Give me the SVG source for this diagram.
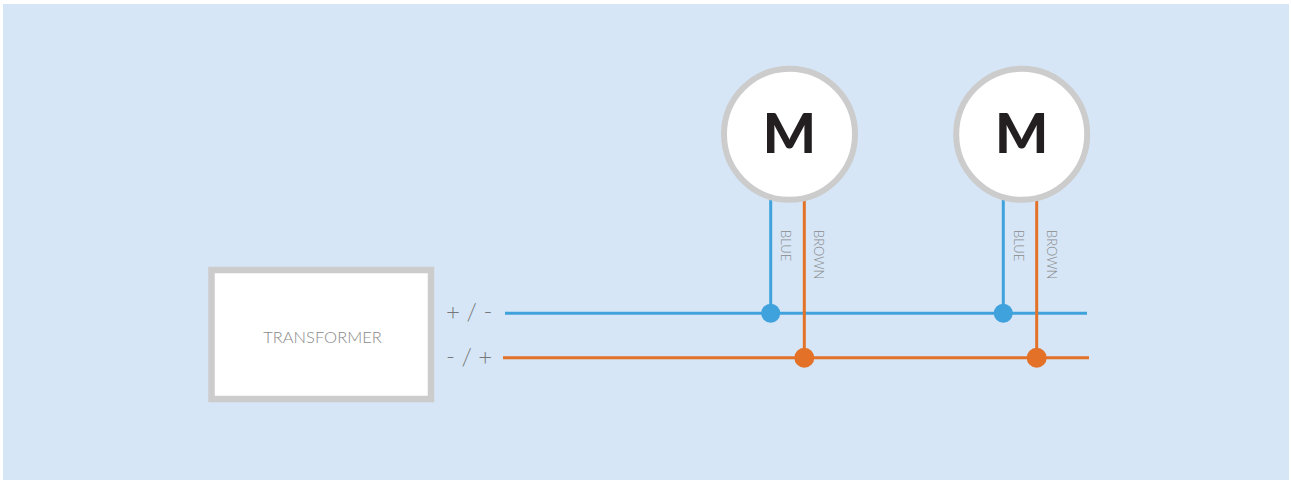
<svg xmlns="http://www.w3.org/2000/svg" width="1291" height="480" viewBox="0 0 1291 480">
<style>
.lbl{font-family:Lato,"Open Sans","Liberation Sans",sans-serif;font-weight:300;fill:#8a8a8a}
.pol{font-family:Lato,"Open Sans","Liberation Sans",sans-serif;font-weight:300;fill:#777;font-size:24px}
.m{font-family:Lato,"Liberation Sans",sans-serif;font-weight:900;fill:#231f20;font-size:56px;text-anchor:middle}
.motor{fill:#fff;stroke:#cccccc;stroke-width:6}
.blue{stroke:#3fa2dc;stroke-width:3;fill:none}
.brown{stroke:#e37228;stroke-width:3;fill:none}
</style>
<rect x="0" y="0" width="1291" height="480" fill="#ffffff"/>
<rect x="3" y="4" width="1286" height="476" fill="#d6e6f6"/>
<g id="connectors">
<line class="blue" x1="505" y1="313.3" x2="1087" y2="313.3"/>
<line class="brown" x1="503" y1="357.7" x2="1089" y2="357.7"/>
<line class="blue" x1="770.7" y1="195" x2="770.7" y2="313"/>
<line class="brown" x1="804.3" y1="195" x2="804.3" y2="358"/>
<line class="blue" x1="1003.3" y1="195" x2="1003.3" y2="313"/>
<line class="brown" x1="1036.7" y1="195" x2="1036.7" y2="358"/>
<circle cx="770.7" cy="313.3" r="9.5" fill="#3fa2dc"/>
<circle cx="1003.3" cy="313.3" r="9.5" fill="#3fa2dc"/>
<circle cx="804.3" cy="357.7" r="10" fill="#e37228"/>
<circle cx="1036.7" cy="357.7" r="10" fill="#e37228"/>
<text class="lbl" font-size="13" transform="translate(781,230) rotate(90)">BLUE</text>
<text class="lbl" font-size="13" transform="translate(813.5,230) rotate(90)">BROWN</text>
<text class="lbl" font-size="13" transform="translate(1014,230) rotate(90)">BLUE</text>
<text class="lbl" font-size="13" transform="translate(1046.5,230) rotate(90)">BROWN</text>
</g>
<g id="transformer">
<rect x="211.5" y="270" width="219.5" height="129" fill="#fff" stroke="#cccccc" stroke-width="6.5"/>
<text class="lbl" font-size="16.5" x="322.5" y="343" text-anchor="middle">TRANSFORMER</text>
<text class="pol" x="446" y="320">+ / -</text>
<text class="pol" x="446" y="365">- / +</text>
</g>
<g id="motor1">
<circle class="motor" cx="789.5" cy="134.3" r="65.5"/>
<text class="m" x="789.5" y="153">M</text>
</g>
<g id="motor2">
<circle class="motor" cx="1021.7" cy="134.3" r="65.5"/>
<text class="m" x="1021.7" y="153">M</text>
</g>
</svg>
